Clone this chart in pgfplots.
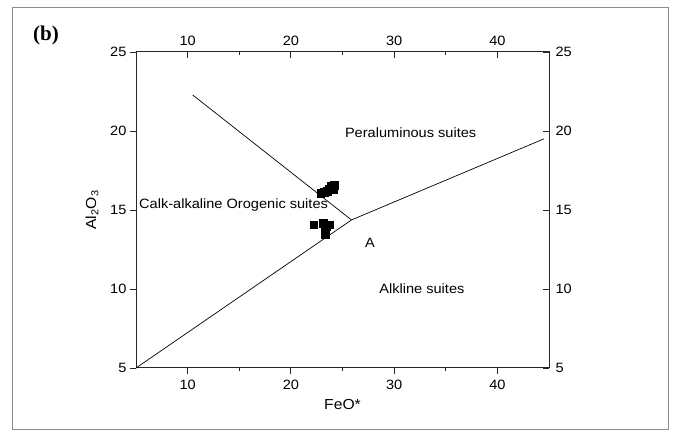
\documentclass[border=0pt]{standalone}
\usepackage{fontspec}
\setmainfont[FakeStretch=1.08]{Liberation Sans}
\newfontfamily\titleserif{Liberation Serif}
\usepackage{pgfplots}
\pgfplotsset{compat=1.18}

% common geometry of the FeO* - Al2O3 frame
\pgfplotsset{
  feoframe/.style={
    at={(136pt,70pt)}, anchor=south west,
    scale only axis, width=413pt, height=316pt,
    xmin=5, xmax=45, ymin=5, ymax=25,
    xtick={10,20,30,40}, minor xtick={15,25,35},
    ytick={5,10,15,20,25},
    major tick length=6pt, minor tick length=3pt,
    /pgf/number format/assume math mode=true,
    every tick label/.append style={font=\fontsize{13.5}{15}\selectfont},
    tick style={line width=0.9pt, black!85},
  }
}

\begin{document}
\begin{tikzpicture}
\path[use as bounding box] (0pt,0pt) rectangle (674pt,438pt);
\draw[black!45, line width=1pt] (12pt,8pt) rectangle (668pt,430pt);
\node[font=\titleserif\bfseries\fontsize{21}{23}\selectfont] at (46pt,403pt) {(b)};

% bottom / left axes: ticks outside
\begin{axis}[feoframe,
  xtick pos=left, ytick pos=left, tick align=outside,
  xticklabel style={yshift=-3pt},
  axis line style={line width=1pt, black!85},
  xlabel={FeO*}, ylabel={Al\textsubscript{2}O\textsubscript{3}},
  label style={font=\fontsize{14.5}{16}\selectfont},
  xlabel style={at={(axis description cs:0.5,-0.114)}, anchor=center},
  ylabel style={at={(axis description cs:-0.1065,0.5)}, anchor=center},
  clip=false,
]
  % field boundaries
  \addplot[black, line width=0.7pt] coordinates {(5,5) (25.87,14.37) (44.5,19.5)};
  \addplot[black, line width=0.7pt] coordinates {(10.49,22.28) (25.87,14.37)};

  % samples
  \addplot[only marks, mark=square*, mark size=3.8pt, black] coordinates {
    (22.9,16.08) (23.25,16.14) (23.5,16.2) (23.7,16.33)
    (23.9,16.52) (24.2,16.58) (24.1,16.3)
    (22.2,14.08) (23.15,14.18) (23.7,14.08) (23.4,13.99)
    (23.3,13.73) (23.3,13.48)
  };

  % field names
  \begin{scope}[every node/.style={font=\fontsize{13.5}{15}\selectfont}]
    \node at (axis cs:31.6,19.87) {Peraluminous suites};
    \node at (axis cs:14.45,15.32) {Calk-alkaline Orogenic suites};
    \node at (axis cs:27.65,12.9) {A};
    \node at (axis cs:32.69,10.0) {Alkline suites};
  \end{scope}
\end{axis}

% top / right axes: ticks inside
\begin{axis}[feoframe,
  xtick pos=right, ytick pos=right, tick align=inside,
  xticklabel pos=right, yticklabel pos=right,
  xticklabel style={yshift=3pt}, yticklabel style={xshift=3pt},
  axis line style={draw=none},
]
\end{axis}
\end{tikzpicture}
\end{document}
